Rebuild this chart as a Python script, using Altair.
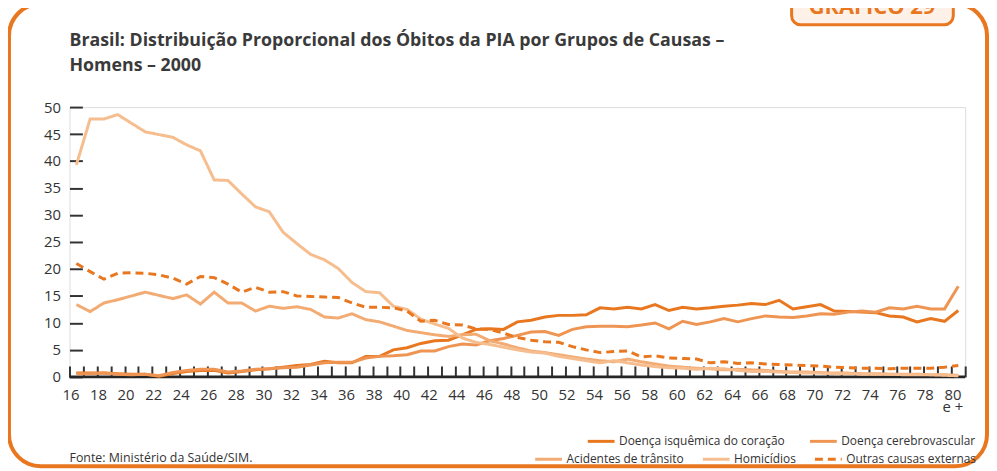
import altair as alt
import pandas as pd

ages = list(range(16, 81))

isquemica = [0.7, 0.7, 0.7, 0.6, 0.5, 0.5, 0.1, 0.6, 1.0, 1.2,
             1.2, 0.7, 1.0, 1.3, 1.5, 1.8, 2.1, 2.3, 2.9, 2.6,
             2.6, 3.8, 3.8, 5.0, 5.4, 6.2, 6.7, 6.8, 7.8, 8.8,
             8.9, 8.8, 10.2, 10.5, 11.1, 11.4, 11.4, 11.5, 12.8, 12.6,
             12.9, 12.6, 13.4, 12.3, 12.9, 12.6, 12.8, 13.1, 13.3, 13.6,
             13.4, 14.2, 12.6, 13.0, 13.4, 12.2, 12.1, 12.0, 11.9, 11.3,
             11.1, 10.2, 10.8, 10.3, 12.3]

cerebro = [0.6, 0.6, 0.7, 0.5, 0.4, 0.5, 0.2, 0.8, 1.2, 1.4,
           1.4, 0.9, 1.1, 1.4, 1.5, 1.7, 1.8, 2.2, 2.6, 2.7,
           2.7, 3.5, 3.8, 3.9, 4.1, 4.8, 4.8, 5.6, 6.1, 5.9,
           6.7, 7.1, 7.7, 8.3, 8.4, 7.7, 8.8, 9.3, 9.4, 9.4,
           9.3, 9.6, 10.0, 8.9, 10.3, 9.7, 10.2, 10.8, 10.2, 10.8,
           11.3, 11.1, 11.0, 11.3, 11.7, 11.6, 12.0, 12.2, 12.0, 12.8,
           12.6, 13.1, 12.6, 12.6, 16.8]

transito = [13.4, 12.1, 13.7, 14.3, 15.0, 15.7, 15.1, 14.5, 15.2, 13.5,
            15.7, 13.7, 13.7, 12.2, 13.1, 12.7, 13.0, 12.5, 11.1, 10.9,
            11.7, 10.6, 10.2, 9.4, 8.6, 8.2, 7.8, 7.5, 7.8, 7.9,
            6.7, 6.1, 5.4, 4.8, 4.5, 4.1, 3.7, 3.3, 3.0, 2.8,
            3.3, 2.8, 2.4, 2.0, 1.8, 1.6, 1.5, 1.3, 1.4, 1.3,
            1.2, 1.0, 0.9, 0.9, 0.8, 0.7, 0.7, 0.6, 0.6, 0.5,
            0.5, 0.5, 0.4, 0.4, 0.3]

homicidios = [39.3, 47.8, 47.8, 48.6, 47.0, 45.4, 44.9, 44.4, 43.0, 41.9,
              36.5, 36.4, 33.9, 31.5, 30.6, 26.8, 24.7, 22.7, 21.7, 20.1,
              17.5, 15.8, 15.6, 13.1, 12.5, 10.7, 9.8, 9.0, 7.2, 6.4,
              6.0, 5.5, 5.0, 4.6, 4.4, 3.8, 3.4, 3.0, 2.6, 3.0,
              2.6, 2.2, 1.9, 1.7, 1.6, 1.4, 1.6, 1.5, 1.2, 1.0,
              1.0, 0.9, 0.8, 0.7, 0.7, 0.6, 0.6, 0.5, 0.5, 0.5,
              0.4, 0.4, 0.4, 0.3, 0.2]

outras = [21.0, 19.5, 18.1, 19.2, 19.3, 19.2, 18.9, 18.3, 17.2, 18.6,
          18.4, 17.2, 15.7, 16.6, 15.7, 15.8, 15.0, 14.9, 14.8, 14.7,
          13.7, 12.9, 12.9, 12.8, 12.2, 10.3, 10.5, 9.7, 9.6, 8.9,
          8.8, 8.1, 7.3, 6.8, 6.5, 6.4, 5.6, 5.0, 4.5, 4.7,
          4.8, 3.7, 3.9, 3.5, 3.4, 3.3, 2.6, 2.8, 2.5, 2.6,
          2.4, 2.3, 2.2, 2.1, 2.0, 1.8, 1.7, 1.6, 1.6, 1.5,
          1.6, 1.6, 1.6, 1.8, 2.1]

y_ticks = [0, 5, 10, 15, 20, 25, 30, 35, 40, 45, 50]

S_ISQ = "Doença isquêmica do coração"
S_CER = "Doença cerebrovascular"
S_TRA = "Acidentes de trânsito"
S_HOM = "Homicídios"
S_OUT = "Outras causas externas"

title_lines = ["Brasil: Distribuição Proporcional dos Óbitos da PIA por Grupos de Causas –",
               "Homens – 2000"]
source_text = "Fonte: Ministério da Saúde/SIM."
tab_text = "GRÁFICO 29"

ORANGE = "#E8771F"
TEXT = "#333333"
FONT = "Open Sans"


def long_df(series):
    rows = []
    for name, vals in series:
        for a, v in zip(ages, vals):
            rows.append({"idade": a, "valor": v, "serie": name})
    return pd.DataFrame(rows)


df_a = long_df([(S_ISQ, isquemica), (S_CER, cerebro)])
df_b = long_df([(S_TRA, transito), (S_HOM, homicidios), (S_OUT, outras)])

# ticks at band edges (between ages), labels at the left edge of even ages
x_tick_values = [a - 0.5 for a in ages] + [ages[-1] + 0.5]
x_scale = alt.Scale(domain=[ages[0] - 0.5, ages[-1] + 0.5], nice=False, zero=False)
x_axis = alt.Axis(
    values=x_tick_values, title=None, grid=False, domain=False,
    offset=-11, tickSize=11, tickWidth=2, tickColor="#333333",
    labelExpr="(datum.value + 0.5) % 2 == 0 ? ((datum.value + 0.5) == 80 ? ['80', 'e +'] : '' + (datum.value + 0.5)) : ''",
    labelOverlap=False, labelFlush=False, labelPadding=11, labelOffset=1,
    labelFontSize=15, labelColor=TEXT, labelFont=FONT, labelLineHeight=12,
    labelBaseline="top",
)
y_scale = alt.Scale(domain=[0, 50], nice=False)
y_axis = alt.Axis(
    values=y_ticks, title=None, grid=False, domain=False,
    offset=-13, tickSize=13, tickWidth=2, tickColor="#333333",
    labelPadding=9, labelFontSize=15, labelColor=TEXT, labelFont=FONT,
)

legend_common = dict(
    orient="none", direction="horizontal", title=None,
    labelFontSize=12, labelColor=TEXT, labelFont=FONT, labelOffset=3,
    symbolType="stroke", symbolSize=729, symbolStrokeWidth=3,
    padding=0, labelLimit=400,
)

lines_a = alt.Chart(df_a).mark_line(strokeWidth=3).encode(
    x=alt.X("idade:Q", scale=x_scale, axis=x_axis),
    y=alt.Y("valor:Q", scale=y_scale, axis=y_axis),
    color=alt.Color("serie:N",
                    scale=alt.Scale(domain=[S_ISQ, S_CER], range=[ORANGE, "#EE9553"]),
                    legend=alt.Legend(legendX=521, legendY=322, columnPadding=18, **legend_common)),
    detail="serie:N",
)

dom_b = [S_TRA, S_HOM, S_OUT]
leg_b = alt.Legend(legendX=468, legendY=340, columnPadding=12, **legend_common)
lines_b = alt.Chart(df_b).mark_line(strokeWidth=3).encode(
    x=alt.X("idade:Q", scale=x_scale, axis=x_axis),
    y=alt.Y("valor:Q", scale=y_scale, axis=y_axis),
    color=alt.Color("serie:N",
                    scale=alt.Scale(domain=dom_b, range=["#F3AB74", "#F6BD8F", ORANGE]),
                    legend=leg_b),
    strokeDash=alt.StrokeDash("serie:N",
                              scale=alt.Scale(domain=dom_b, range=[[1, 0], [1, 0], [8, 5]]),
                              legend=leg_b),
)

baseline = alt.Chart(pd.DataFrame({"v": [0]})).mark_rule(color="#262626", strokeWidth=3).encode(
    y=alt.Y("v:Q", scale=y_scale, axis=y_axis),
)

one = pd.DataFrame({"k": [0]})
frame = alt.Chart(one).mark_rect(
    fill=None, stroke=ORANGE, strokeWidth=4, cornerRadius=32
).encode(x=alt.value(-61), x2=alt.value(925), y=alt.value(-104), y2=alt.value(362))

tab = alt.Chart(one).mark_rect(
    fill="#FDF1E8", stroke=ORANGE, strokeWidth=3, cornerRadius=9
).encode(x=alt.value(728), x2=alt.value(891), y=alt.value(-115), y2=alt.value(-83))

tab_label = alt.Chart(one).mark_text(
    font=FONT, fontSize=22, fontWeight="bold", color=ORANGE, align="center", baseline="alphabetic"
).encode(x=alt.value(809), y=alt.value(-94), text=alt.value(tab_text))

title = alt.Chart(one).mark_text(
    font=FONT, fontSize=17.9, fontWeight="bold", color="#3a3a3a", align="left",
    baseline="alphabetic", lineHeight=26,
).encode(x=alt.value(0), y=alt.value(-62), text=alt.value(title_lines))

source = alt.Chart(one).mark_text(
    font=FONT, fontSize=12.5, color=TEXT, align="left", baseline="middle"
).encode(x=alt.value(0), y=alt.value(354), text=alt.value(source_text))

chart = alt.layer(
    frame, tab, tab_label, title, baseline, lines_a, lines_b, source
).resolve_scale(
    color="independent", strokeDash="independent"
).properties(
    width=903, height=272,
    padding={"left": 62, "top": 98, "right": 24, "bottom": 93},
    autosize=alt.AutoSizeParams(type="none"),
).configure_view(stroke=None).configure(font=FONT)

chart.save("out.html", embed_options={"renderer": "svg", "actions": False})
